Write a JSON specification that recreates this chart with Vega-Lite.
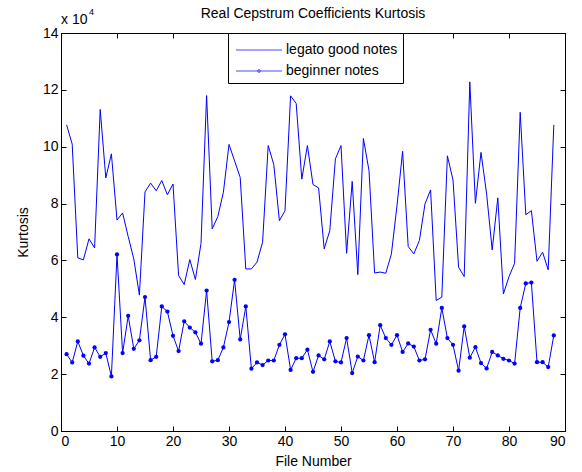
{
  "$schema": "https://vega.github.io/schema/vega-lite/v6.json",
  "width": 504,
  "height": 398,
  "autosize": "none",
  "padding": {"left": 61, "top": 33, "right": 17, "bottom": 41},
  "background": "white",
  "config": {
    "font": "Liberation Sans",
    "view": {"stroke": "black", "strokeWidth": 1},
    "axis": {"labelFont": "Liberation Sans", "titleFont": "Liberation Sans", "labelFontSize": 14, "titleFontSize": 14, "labelColor": "black", "titleColor": "black", "titleFontWeight": "normal", "domainColor": "black", "tickColor": "black", "grid": false}
  },
  "title": {"text": "Real Cepstrum Coefficients Kurtosis", "fontSize": 14, "fontWeight": "normal", "font": "Liberation Sans", "color": "black", "offset": -13},
  "datasets": {"kurt": [
    {"file":1,"legato good notes":10.77,"beginner notes":2.70},
    {"file":2,"legato good notes":10.09,"beginner notes":2.41},
    {"file":3,"legato good notes":6.09,"beginner notes":3.15},
    {"file":4,"legato good notes":6.02,"beginner notes":2.65},
    {"file":5,"legato good notes":6.76,"beginner notes":2.37},
    {"file":6,"legato good notes":6.44,"beginner notes":2.94},
    {"file":7,"legato good notes":11.31,"beginner notes":2.61},
    {"file":8,"legato good notes":8.90,"beginner notes":2.74},
    {"file":9,"legato good notes":9.75,"beginner notes":1.92},
    {"file":10,"legato good notes":7.42,"beginner notes":6.21},
    {"file":11,"legato good notes":7.67,"beginner notes":2.74},
    {"file":12,"legato good notes":6.84,"beginner notes":4.05},
    {"file":13,"legato good notes":6.05,"beginner notes":2.89},
    {"file":14,"legato good notes":4.78,"beginner notes":3.19},
    {"file":15,"legato good notes":8.41,"beginner notes":4.71},
    {"file":16,"legato good notes":8.72,"beginner notes":2.49},
    {"file":17,"legato good notes":8.45,"beginner notes":2.61},
    {"file":18,"legato good notes":8.81,"beginner notes":4.38},
    {"file":19,"legato good notes":8.31,"beginner notes":4.20},
    {"file":20,"legato good notes":8.69,"beginner notes":3.35},
    {"file":21,"legato good notes":5.47,"beginner notes":2.81},
    {"file":22,"legato good notes":5.15,"beginner notes":3.86},
    {"file":23,"legato good notes":6.03,"beginner notes":3.64},
    {"file":24,"legato good notes":5.33,"beginner notes":3.47},
    {"file":25,"legato good notes":6.60,"beginner notes":3.07},
    {"file":26,"legato good notes":11.80,"beginner notes":4.94},
    {"file":27,"legato good notes":7.11,"beginner notes":2.45},
    {"file":28,"legato good notes":7.54,"beginner notes":2.49},
    {"file":29,"legato good notes":8.40,"beginner notes":2.94},
    {"file":30,"legato good notes":10.08,"beginner notes":3.83},
    {"file":31,"legato good notes":9.50,"beginner notes":5.32},
    {"file":32,"legato good notes":8.92,"beginner notes":3.22},
    {"file":33,"legato good notes":5.70,"beginner notes":4.38},
    {"file":34,"legato good notes":5.70,"beginner notes":2.19},
    {"file":35,"legato good notes":5.94,"beginner notes":2.41},
    {"file":36,"legato good notes":6.64,"beginner notes":2.32},
    {"file":37,"legato good notes":10.04,"beginner notes":2.48},
    {"file":38,"legato good notes":9.37,"beginner notes":2.48},
    {"file":39,"legato good notes":7.40,"beginner notes":3.03},
    {"file":40,"legato good notes":7.75,"beginner notes":3.40},
    {"file":41,"legato good notes":11.79,"beginner notes":2.15},
    {"file":42,"legato good notes":11.52,"beginner notes":2.56},
    {"file":43,"legato good notes":8.86,"beginner notes":2.56},
    {"file":44,"legato good notes":10.04,"beginner notes":2.86},
    {"file":45,"legato good notes":8.67,"beginner notes":2.08},
    {"file":46,"legato good notes":8.55,"beginner notes":2.66},
    {"file":47,"legato good notes":6.41,"beginner notes":2.52},
    {"file":48,"legato good notes":7.05,"beginner notes":3.15},
    {"file":49,"legato good notes":9.57,"beginner notes":2.45},
    {"file":50,"legato good notes":10.04,"beginner notes":2.41},
    {"file":51,"legato good notes":6.25,"beginner notes":3.27},
    {"file":52,"legato good notes":8.78,"beginner notes":2.04},
    {"file":53,"legato good notes":5.50,"beginner notes":2.62},
    {"file":54,"legato good notes":10.29,"beginner notes":2.48},
    {"file":55,"legato good notes":9.16,"beginner notes":3.37},
    {"file":56,"legato good notes":5.56,"beginner notes":2.42},
    {"file":57,"legato good notes":5.59,"beginner notes":3.72},
    {"file":58,"legato good notes":5.55,"beginner notes":3.27},
    {"file":59,"legato good notes":6.23,"beginner notes":3.03},
    {"file":60,"legato good notes":7.93,"beginner notes":3.37},
    {"file":61,"legato good notes":9.84,"beginner notes":2.78},
    {"file":62,"legato good notes":6.49,"beginner notes":3.08},
    {"file":63,"legato good notes":6.23,"beginner notes":2.97},
    {"file":64,"legato good notes":6.70,"beginner notes":2.48},
    {"file":65,"legato good notes":7.99,"beginner notes":2.52},
    {"file":66,"legato good notes":8.48,"beginner notes":3.56},
    {"file":67,"legato good notes":4.59,"beginner notes":3.07},
    {"file":68,"legato good notes":4.71,"beginner notes":4.33},
    {"file":69,"legato good notes":9.68,"beginner notes":3.27},
    {"file":70,"legato good notes":8.83,"beginner notes":3.03},
    {"file":71,"legato good notes":5.76,"beginner notes":2.12},
    {"file":72,"legato good notes":5.43,"beginner notes":3.68},
    {"file":73,"legato good notes":12.28,"beginner notes":2.58},
    {"file":74,"legato good notes":8.01,"beginner notes":2.95},
    {"file":75,"legato good notes":9.80,"beginner notes":2.39},
    {"file":76,"legato good notes":8.34,"beginner notes":2.20},
    {"file":77,"legato good notes":6.37,"beginner notes":2.78},
    {"file":78,"legato good notes":8.20,"beginner notes":2.66},
    {"file":79,"legato good notes":4.82,"beginner notes":2.54},
    {"file":80,"legato good notes":5.43,"beginner notes":2.48},
    {"file":81,"legato good notes":5.90,"beginner notes":2.37},
    {"file":82,"legato good notes":11.21,"beginner notes":4.33},
    {"file":83,"legato good notes":7.61,"beginner notes":5.19},
    {"file":84,"legato good notes":7.75,"beginner notes":5.22},
    {"file":85,"legato good notes":5.97,"beginner notes":2.42},
    {"file":86,"legato good notes":6.29,"beginner notes":2.42},
    {"file":87,"legato good notes":5.67,"beginner notes":2.25},
    {"file":88,"legato good notes":10.77,"beginner notes":3.36}
  ]},
  "layer": [
    {
      "data": {"name": "kurt"},
      "transform": [{"fold": ["legato good notes", "beginner notes"], "as": ["series", "kurtosis"]}],
      "mark": {"type": "line", "color": "#0000ff", "strokeWidth": 1},
      "encoding": {
        "x": {"field": "file", "type": "quantitative", "scale": {"domain": [0, 90], "nice": false}, "axis": {"orient": "bottom", "values": [0,10,20,30,40,50,60,70,80,90], "tickSize": -5, "labelPadding": 8, "title": "File Number", "titlePadding": 6, "domain": true}},
        "y": {"field": "kurtosis", "type": "quantitative", "scale": {"domain": [0, 14], "nice": false}, "axis": {"orient": "left", "values": [0,2,4,6,8,10,12,14], "tickSize": -5, "labelPadding": 8, "title": "Kurtosis", "titlePadding": 12, "domain": true}},
        "detail": {"field": "series"}
      }
    },
    {
      "data": {"name": "kurt"},
      "transform": [{"fold": ["beginner notes"], "as": ["series", "kurtosis"]}],
      "mark": {"type": "point", "filled": true, "color": "#0000ff", "size": 18, "opacity": 1},
      "encoding": {
        "x": {"field": "file", "type": "quantitative", "axis": {"orient": "top", "values": [0,10,20,30,40,50,60,70,80,90], "tickSize": -5, "labels": false, "title": null, "domain": true}},
        "y": {"field": "kurtosis", "type": "quantitative", "axis": {"orient": "right", "values": [0,2,4,6,8,10,12,14], "tickSize": -5, "labels": false, "title": null, "domain": true}}
      }
    },
    {
      "data": {"name": "kurt"},
      "transform": [{"fold": ["legato good notes", "beginner notes"], "as": ["series", "kurtosis"]}, {"filter": "false"}],
      "mark": {"type": "point", "filled": false, "color": "#0000ff", "strokeWidth": 1},
      "encoding": {
        "x": {"field": "file", "type": "quantitative", "axis": null},
        "y": {"field": "kurtosis", "type": "quantitative", "axis": null},
        "shape": {"field": "series", "type": "nominal",
          "scale": {"domain": ["legato good notes", "beginner notes"], "range": ["M-2,0H2", "M-2,0H2M-0.12,0A0.12,0.12,0,1,0,0.12,0A0.12,0.12,0,1,0,-0.12,0Z"]},
          "legend": {"title": null, "orient": "none", "legendX": 167, "legendY": 0, "strokeColor": "black", "fillColor": "white", "padding": 5, "symbolSize": 529, "symbolOffset": 14, "symbolStrokeWidth": 1, "symbolStrokeColor": "#0000ff", "symbolFillColor": "#0000ff", "labelOffset": 15, "labelFontSize": 14, "labelFont": "Liberation Sans", "labelColor": "black", "rowPadding": 2,
            "encode": {"symbols": {"fill": {"value": "#0000ff"}, "stroke": {"value": "#0000ff"}}}}
        }
      }
    },
    {
      "data": {"values": [{"label": "x 10"}]},
      "mark": {"type": "text", "align": "left", "baseline": "alphabetic", "dy": -9, "fontSize": 14, "color": "black"},
      "encoding": {"x": {"datum": 0, "type": "quantitative", "axis": null}, "y": {"datum": 14, "type": "quantitative", "axis": null}, "text": {"field": "label"}}
    },
    {
      "data": {"values": [{"label": "4"}]},
      "mark": {"type": "text", "align": "left", "baseline": "alphabetic", "dx": 28, "dy": -18, "fontSize": 9, "color": "black"},
      "encoding": {"x": {"datum": 0, "type": "quantitative", "axis": null}, "y": {"datum": 14, "type": "quantitative", "axis": null}, "text": {"field": "label"}}
    }
  ],
  "resolve": {"axis": {"x": "independent", "y": "independent"}}
}
